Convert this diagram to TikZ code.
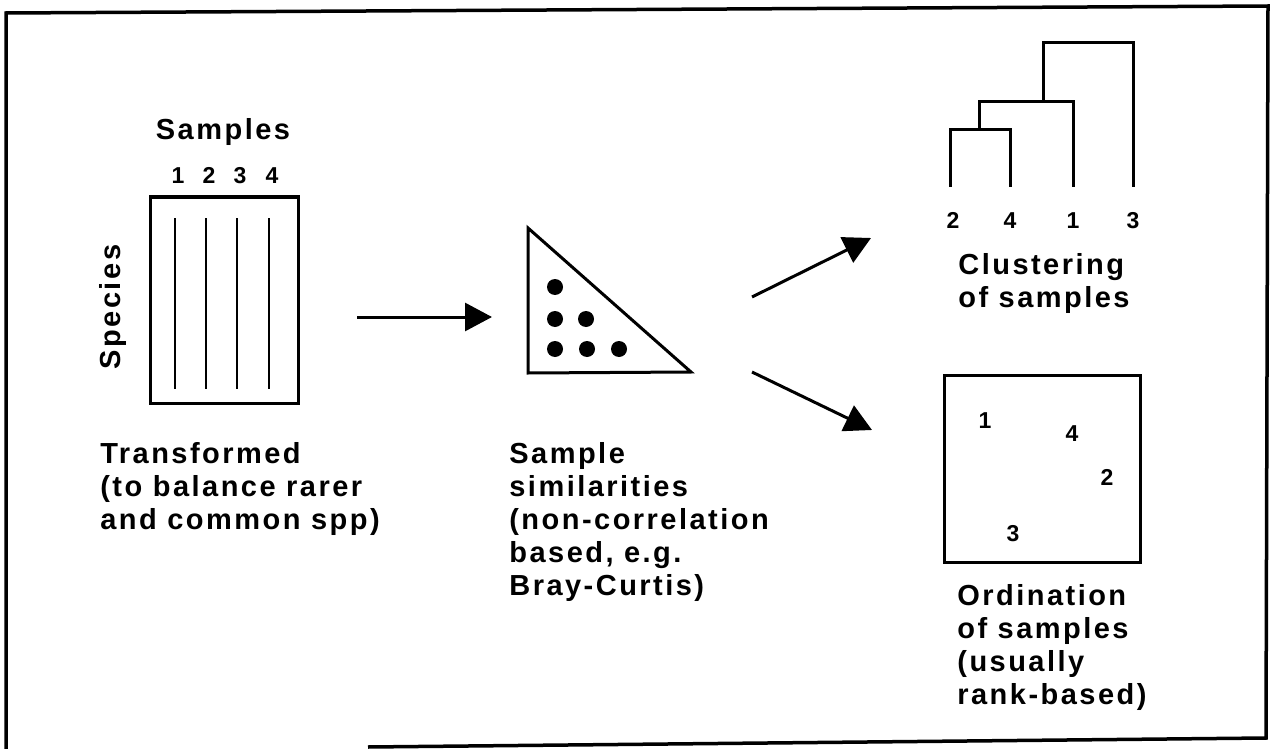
\documentclass[tikz,border=0pt]{standalone}
\usepackage{fontspec}
\setmainfont{Liberation Sans}[LetterSpace=8.5]
\usetikzlibrary{arrows.meta}

\begin{document}
\begin{tikzpicture}[x=0.5pt,y=-0.5pt]
\tikzset{frame style/.style={line width=1.75pt},
         box style/.style={draw, line width=1.5pt},
         label style/.style={font=\bfseries\fontsize{14.5}{16.5}\selectfont, align=left, inner sep=0pt, anchor=north west},
         num style/.style={font=\bfseries\fontsize{11.5}{13}\selectfont, inner sep=0pt, anchor=base},
         dot style/.style={circle, fill=black, inner sep=0pt, minimum size=8pt},
         arrow style/.style={line width=1.5pt, -{Triangle[length=13.5pt,width=14pt]}}}
\useasboundingbox (0,0) rectangle (1275,749);

% outer frame (bottom left part missing)
\draw[frame style] (368,747) -- (1266,738) -- (1268,6) -- (6,13) -- (6,749);

% data matrix
\draw[box style] (150,197) rectangle (298,403);
\foreach \x/\n in {175/1, 206/2, 237/3, 269/4}{
  \draw[line width=1pt] (\x,218) -- (\x,389);
  \node[num style] (c\n) at (\x+3,184) {\n};
}
\node[label style, anchor=base] (samp) at (223,140) {Samples};
\node[label style, anchor=center, rotate=90] (spec) at (113,307) {Species};
\node[label style] (trans) at (100,442) {Transformed\\(to balance rarer\\and common spp)};

% similarity triangle
\draw[box style, line join=miter] (528,228) -- (528,373) -- (691,372) -- cycle;
\node[dot style] (d1) at (555,287) {};
\node[dot style] (d2) at (555,319) {};
\node[dot style] (d3) at (586,319) {};
\node[dot style] (d4) at (555,349) {};
\node[dot style] (d5) at (587,349) {};
\node[dot style] (d6) at (619,349) {};
\node[label style] (simil) at (509,442) {Sample\\similarities\\(non-correlation\\based, e.g.\\Bray-Curtis)};

% arrows
\coordinate (a1) at (357,317);
\coordinate (b1) at (492,317);
\coordinate (a2) at (752,297);
\coordinate (b2) at (871,238);
\coordinate (a3) at (752,372);
\coordinate (b3) at (872,430);
\draw[arrow style] (a1) -- (b1);
\draw[arrow style] (a2) -- (b2);
\draw[arrow style] (a3) -- (b3);

% dendrogram
\draw[line width=1.5pt] (950,187) |- (1010,130) -- (1010,187);
\draw[line width=1.5pt] (979,130) |- (1073,102) -- (1073,187);
\draw[line width=1.5pt] (1043,102) |- (1133,43) -- (1133,187);
\node[num style] (l2) at (953,228) {2};
\node[num style] (l4) at (1010,228) {4};
\node[num style] (l1) at (1073,228) {1};
\node[num style] (l3) at (1133,228) {3};
\node[label style] (clus) at (958,253) {Clustering\\of samples};

% ordination
\draw[box style] (944,375) rectangle (1140,562);
\node[num style] (o1) at (985,428) {1};
\node[num style] (o4) at (1072,441) {4};
\node[num style] (o2) at (1107,485) {2};
\node[num style] (o3) at (1013,541) {3};
\node[label style] (ordn) at (957,584) {Ordination\\of samples\\(usually\\rank-based)};
\end{tikzpicture}
\end{document}
